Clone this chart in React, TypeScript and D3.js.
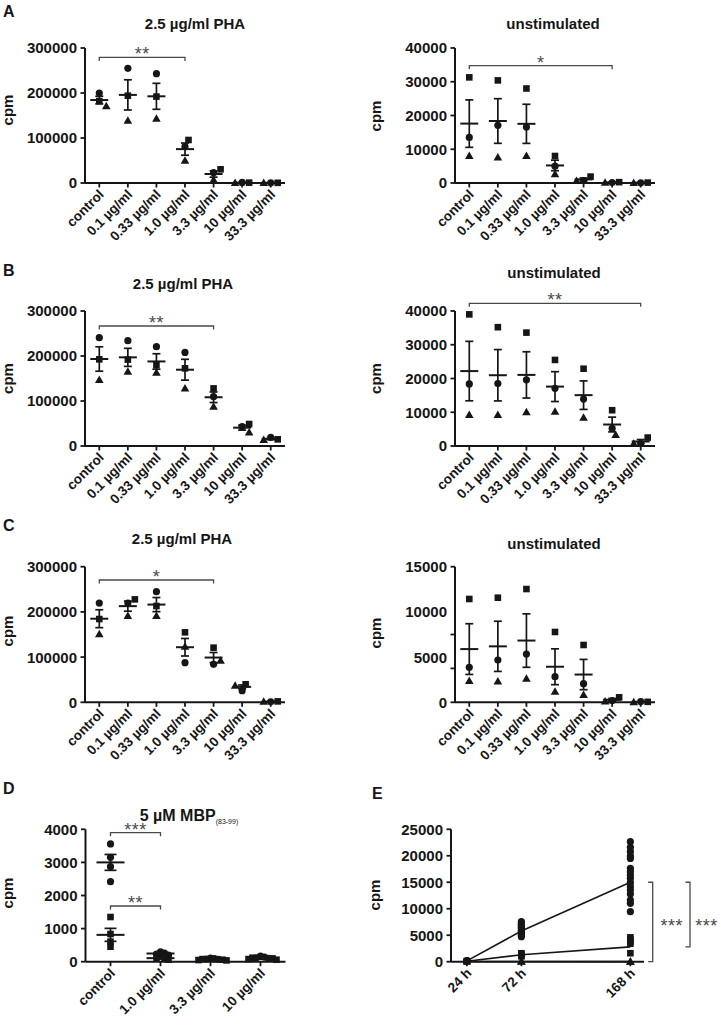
import React from "react";
import * as d3 from "d3";

const FONT = "'Liberation Sans', Arial, Helvetica, sans-serif";
const INK = "#161616";
const GRAY = "#4a4a4a";

// ---------- categories ----------
const DOSES = ["control", "0.1 µg/ml", "0.33 µg/ml", "1.0 µg/ml", "3.3 µg/ml", "10 µg/ml", "33.3 µg/ml"];
const DOSES_D = ["control", "1.0 µg/ml", "3.3 µg/ml", "10 µg/ml"];
const TIMES = [24, 72, 168];
const TIME_LABELS = ["24 h", "72 h", "168 h"];

// ---------- tick values ----------
const TICKS_PHA = [0, 100000, 200000, 300000];
const TICKS_40K = [0, 10000, 20000, 30000, 40000];
const TICKS_15K = [0, 5000, 10000, 15000];
const TICKMARKS_15K = [0, 3750, 7500, 15000];
const TICKS_4K = [0, 1000, 2000, 3000, 4000];
const TICKS_25K = [0, 5000, 10000, 15000, 20000, 25000];

// ---------- panel A ----------
const A_PHA_CIRCLE = [200000, 254800, 243000, 80700, 23000, 1200, 600];
const A_PHA_SQUARE = [182000, 194000, 192000, 95600, 30400, 800, 400];
const A_PHA_TRIANGLE = [171000, 138500, 143000, 49600, 6700, 300, 200];
const A_UNS_CIRCLE = [13500, 17100, 16600, 5000, 700, 150, 80];
const A_UNS_SQUARE = [31300, 30400, 28000, 8000, 1900, 250, 120];
const A_UNS_TRIANGLE = [8000, 7600, 8000, 2600, 600, 80, 50];

// ---------- panel B ----------
const B_PHA_CIRCLE = [240700, 234000, 220700, 208000, 109600, 43000, 19300];
const B_PHA_SQUARE = [192600, 192000, 180000, 172600, 128000, 48900, 14800];
const B_PHA_TRIANGLE = [146700, 165000, 163000, 128000, 87400, 30400, 13300];
const B_UNS_CIRCLE = [18400, 18500, 19600, 17100, 13900, 5200, 800];
const B_UNS_SQUARE = [39000, 35200, 33600, 25500, 22900, 10600, 2500];
const B_UNS_TRIANGLE = [9200, 9200, 10000, 10200, 8400, 3300, 700];

// ---------- panel C ----------
const C_PHA_CIRCLE = [219600, 219600, 244700, 87700, 84000, 25800, 1000];
const C_PHA_SQUARE = [184200, 227700, 213000, 154800, 120900, 39800, 2000];
const C_PHA_TRIANGLE = [151000, 190900, 190900, 123000, 92100, 36800, 1500];
const C_UNS_CIRCLE = [3870, 4680, 5340, 2840, 2060, 200, 80];
const C_UNS_SQUARE = [11430, 11570, 12530, 7780, 6340, 550, 50];
const C_UNS_TRIANGLE = [2360, 2320, 2620, 1180, 810, 100, 30];

// ---------- panel D (per category, 4 donors) ----------
const D_CIRCLE = [
  [3557, 3154, 2872, 2418],
  [300, 260, 230, 200],
  [110, 90, 80, 70],
  [170, 140, 120, 100],
];
const D_SQUARE = [
  [1350, 836, 605, 453],
  [160, 120, 90, 60],
  [80, 60, 50, 40],
  [120, 100, 80, 60],
];

// ---------- panel E (per time point) ----------
const E_CIRCLE = [
  [200, 150, 100],
  [7560, 7300, 7050, 6800, 6610, 6400, 6170, 5900, 5670, 5450, 5230, 4980, 4720],
  [22670, 21600, 20780, 19960, 19500, 17630, 17000, 16370, 15740, 14920, 14170, 13540, 12780, 11650, 11020, 9450],
];
const E_SQUARE = [
  [120, 80],
  [1600, 1400, 1200, 1000],
  [4600, 4200, 3800, 3400, 1600],
];
const E_TRIANGLE = [
  [40],
  [40, 20],
  [30, 10],
];
const E_CIRCLE_MEAN = [150, 5800, 15000];
const E_SQUARE_MEAN = [100, 1300, 2800];
const E_TRIANGLE_MEAN = [30, 30, 20];

type Shape = "circle" | "square" | "triangle";
type Series = { shape: Shape; data: number[][] };
type Bracket = { from: number; to: number; at: number; label: string };

const one = (arr: number[]) => arr.map((v) => [v]);
const triple = (c: number[], s: number[], t: number[]): Series[] => [
  { shape: "circle", data: one(c) },
  { shape: "square", data: one(s) },
  { shape: "triangle", data: one(t) },
];

function Marker({ shape, x, y }: { shape: Shape; x: number; y: number }) {
  if (shape === "circle") return <circle cx={x} cy={y} r={3.6} fill={INK} />;
  if (shape === "square") return <rect x={x - 3.3} y={y - 3.3} width={6.6} height={6.6} fill={INK} />;
  return <path d={`M${x},${y - 4.4}L${x + 4.3},${y + 3.1}L${x - 4.3},${y + 3.1}Z`} fill={INK} />;
}

function swarm(ys: number[], step: number, minDist: number): number[] {
  const placed: { x: number; y: number }[] = [];
  return ys.map((yv) => {
    for (let k = 0; k < 60; k++) {
      const off = k === 0 ? 0 : (k % 2 === 1 ? 1 : -1) * Math.ceil(k / 2) * step;
      if (placed.every((p) => Math.hypot(p.x - off, p.y - yv) >= minDist)) {
        placed.push({ x: off, y: yv });
        return off;
      }
    }
    return 0;
  });
}

function XLabel({ x, y, text }: { x: number; y: number; text: string }) {
  return (
    <text
      x={x}
      y={y}
      dy="0.35em"
      textAnchor="end"
      transform={`rotate(-45 ${x} ${y})`}
      fontSize={13.5}
      fontWeight="bold"
      fill={INK}
    >
      {text}
    </text>
  );
}

function Stars({ x, y, text }: { x: number; y: number; text: string }) {
  return (
    <text x={x} y={y} textAnchor="middle" fontSize={18} fill={GRAY} letterSpacing={0.5}>
      {text}
    </text>
  );
}

function YAxis({ x0, y, ticks, marks, h0 }: { x0: number; y: d3.ScaleLinear<number, number>; ticks: number[]; marks: number[]; h0: number }) {
  const top = y(d3.max(marks)!);
  return (
    <g>
      <line x1={x0} x2={x0} y1={top} y2={h0} stroke={INK} strokeWidth={2} />
      {marks.map((t) => (
        <line key={"m" + t} x1={x0 - 4.5} x2={x0} y1={y(t)} y2={y(t)} stroke={INK} strokeWidth={1.8} />
      ))}
      {ticks.map((t) => (
        <text key={"t" + t} x={x0 - 8} y={y(t)} dy="0.36em" textAnchor="end" fontSize={15} fontWeight="bold" fill={INK}>
          {String(t)}
        </text>
      ))}
    </g>
  );
}

function DotPanel(props: {
  x0: number;
  y0: number;
  h: number;
  w?: number;
  max: number;
  ticks: number[];
  marks?: number[];
  cats: string[];
  sets: Series[][];
  meanHW: number;
  capHW: number;
  brackets?: Bracket[];
  step?: number;
  minDist?: number;
}) {
  const { x0, y0, h, w = 200, max, ticks, cats, sets, meanHW, capHW } = props;
  const marks = props.marks ?? ticks;
  const brackets = props.brackets ?? [];
  const step = props.step ?? 3.5;
  const minDist = props.minDist ?? 7;
  const x = d3.scalePoint<string>().domain(cats).range([x0, x0 + w]).padding(0.5);
  const y = d3.scaleLinear().domain([0, max]).range([y0, y0 - h]);

  const markers: React.ReactNode[] = [];
  cats.forEach((c, ci) => {
    const pts: { shape: Shape; v: number }[] = [];
    sets.forEach((set) => set.forEach((s) => s.data[ci].forEach((v) => pts.push({ shape: s.shape, v }))));
    const offs = swarm(pts.map((p) => y(p.v)), step, minDist);
    pts.forEach((p, i) =>
      markers.push(<Marker key={`${ci}-${i}`} shape={p.shape} x={x(c)! + offs[i]} y={y(p.v)} />)
    );
  });

  const stats: React.ReactNode[] = [];
  sets.forEach((set, si) =>
    cats.forEach((c, ci) => {
      const vals = set.flatMap((s) => s.data[ci]);
      const m = d3.mean(vals)!;
      const sem = (d3.deviation(vals) ?? 0) / Math.sqrt(vals.length);
      const cx = x(c)!;
      const lo = y(Math.max(0, m - sem));
      const hi = y(m + sem);
      stats.push(
        <g key={`s${si}-${ci}`} stroke={INK} fill="none">
          <line x1={cx - meanHW} x2={cx + meanHW} y1={y(m)} y2={y(m)} strokeWidth={2} />
          <line x1={cx} x2={cx} y1={lo} y2={hi} strokeWidth={1.7} />
          <line x1={cx - capHW} x2={cx + capHW} y1={hi} y2={hi} strokeWidth={1.7} />
          <line x1={cx - capHW} x2={cx + capHW} y1={lo} y2={lo} strokeWidth={1.7} />
        </g>
      );
    })
  );

  return (
    <g>
      <YAxis x0={x0} y={y} ticks={ticks} marks={marks} h0={y0} />
      <line x1={x0} x2={x0 + w} y1={y0} y2={y0} stroke={INK} strokeWidth={2} />
      {cats.map((c) => (
        <line key={"xt" + c} x1={x(c)} x2={x(c)} y1={y0} y2={y0 + 4.5} stroke={INK} strokeWidth={1.8} />
      ))}
      {cats.map((c) => (
        <XLabel key={"xl" + c} x={x(c)! + 2} y={y0 + 9} text={c} />
      ))}
      {markers}
      {stats}
      {brackets.map((b, i) => {
        const x1 = x(cats[b.from])!;
        const x2 = x(cats[b.to])!;
        const yb = y(b.at);
        return (
          <g key={"b" + i}>
            <path d={`M${x1},${yb + 3.5}V${yb}H${x2}V${yb + 3.5}`} stroke={GRAY} strokeWidth={1.3} fill="none" />
            <Stars x={(x1 + x2) / 2} y={yb + 3} text={b.label} />
          </g>
        );
      })}
    </g>
  );
}

function TimePanel() {
  const x0 = 451;
  const y0 = 961.7;
  const x = d3.scaleLinear().domain([10, 180]).range([x0, 644]);
  const y = d3.scaleLinear().domain([0, 25000]).range([y0, y0 - 132.4]);
  const line = d3
    .line<number>()
    .x((_, i) => x(TIMES[i]))
    .y((d) => y(d));
  const groups: { shape: Shape; data: number[][]; mean: number[] }[] = [
    { shape: "circle", data: E_CIRCLE, mean: E_CIRCLE_MEAN },
    { shape: "square", data: E_SQUARE, mean: E_SQUARE_MEAN },
    { shape: "triangle", data: E_TRIANGLE, mean: E_TRIANGLE_MEAN },
  ];
  const bx1 = 652.7;
  const bx2 = 690;
  const midY = (y(E_CIRCLE_MEAN[2]) + y(0)) / 2 + 10;
  return (
    <g>
      <YAxis x0={x0} y={y} ticks={TICKS_25K} marks={TICKS_25K} h0={y0} />
      <line x1={x0} x2={644} y1={y0} y2={y0} stroke={INK} strokeWidth={2} />
      {TIMES.map((t, i) => (
        <g key={"t" + t}>
          <line x1={x(t)} x2={x(t)} y1={y0} y2={y0 + 4.5} stroke={INK} strokeWidth={1.8} />
          <XLabel x={x(t) + 2} y={y0 + 9} text={TIME_LABELS[i]} />
        </g>
      ))}
      {groups.map((g) =>
        g.data.map((vals, ti) =>
          vals.map((v, k) => <Marker key={`${g.shape}-${ti}-${k}`} shape={g.shape} x={x(TIMES[ti])} y={y(v)} />)
        )
      )}
      {groups.map((g) => (
        <path key={"l" + g.shape} d={line(g.mean)!} stroke={INK} strokeWidth={1.6} fill="none" />
      ))}
      <path
        d={`M${bx1 - 4.5},${y(E_CIRCLE_MEAN[2])}H${bx1}V${y(0)}H${bx1 - 4.5}`}
        stroke={GRAY}
        strokeWidth={1.3}
        fill="none"
      />
      <Stars x={bx1 + 19} y={midY} text="***" />
      <path
        d={`M${bx2 - 4.5},${y(E_CIRCLE_MEAN[2])}H${bx2}V${y(E_SQUARE_MEAN[2])}H${bx2 - 4.5}`}
        stroke={GRAY}
        strokeWidth={1.3}
        fill="none"
      />
      <Stars x={bx2 + 16.5} y={midY} text="***" />
    </g>
  );
}

function Title({ x, y, text }: { x: number; y: number; text: string }) {
  return (
    <text x={x} y={y} textAnchor="middle" fontSize={15} fontWeight="bold" fill={INK}>
      {text}
    </text>
  );
}

function Letter({ x, y, text }: { x: number; y: number; text: string }) {
  return (
    <text x={x} y={y} fontSize={16} fontWeight="bold" fill={INK}>
      {text}
    </text>
  );
}

function Cpm({ x, y }: { x: number; y: number }) {
  return (
    <text x={x} y={y} transform={`rotate(-90 ${x} ${y})`} textAnchor="middle" fontSize={15} fontWeight="bold" fill={INK}>
      cpm
    </text>
  );
}

export default function App() {
  return (
    <svg
      width={721}
      height={1026}
      style={{ position: "absolute", left: 0, top: 0, display: "block" }}
      fontFamily={FONT}
    >
      <rect width={721} height={1026} fill="#fff" />

      {/* Row A */}
      <Letter x={3} y={16.7} text="A" />
      <Title x={195} y={28.5} text="2.5 µg/ml PHA" />
      <Title x={553} y={28.5} text="unstimulated" />
      <Cpm x={12.7} y={110} />
      <Cpm x={381} y={116} />
      <DotPanel
        x0={85} y0={183} h={135} max={300000} ticks={TICKS_PHA} cats={DOSES}
        sets={[triple(A_PHA_CIRCLE, A_PHA_SQUARE, A_PHA_TRIANGLE)]}
        meanHW={9} capHW={4}
        brackets={[{ from: 0, to: 3, at: 279000, label: "**" }]}
      />
      <DotPanel
        x0={455} y0={183} h={135} max={40000} ticks={TICKS_40K} cats={DOSES}
        sets={[triple(A_UNS_CIRCLE, A_UNS_SQUARE, A_UNS_TRIANGLE)]}
        meanHW={9} capHW={4}
        brackets={[{ from: 0, to: 5, at: 34760, label: "*" }]}
      />

      {/* Row B */}
      <Letter x={3} y={276} text="B" />
      <Title x={183} y={289} text="2.5 µg/ml PHA" />
      <Title x={554} y={278.3} text="unstimulated" />
      <Cpm x={12.7} y={378.5} />
      <Cpm x={381} y={378.5} />
      <DotPanel
        x0={85} y0={446} h={135} max={300000} ticks={TICKS_PHA} cats={DOSES}
        sets={[triple(B_PHA_CIRCLE, B_PHA_SQUARE, B_PHA_TRIANGLE)]}
        meanHW={9} capHW={4}
        brackets={[{ from: 0, to: 4, at: 266700, label: "**" }]}
      />
      <DotPanel
        x0={455} y0={446} h={135} max={40000} ticks={TICKS_40K} cats={DOSES}
        sets={[triple(B_UNS_CIRCLE, B_UNS_SQUARE, B_UNS_TRIANGLE)]}
        meanHW={9} capHW={4}
        brackets={[{ from: 0, to: 6, at: 42280, label: "**" }]}
      />

      {/* Row C */}
      <Letter x={3} y={530.7} text="C" />
      <Title x={182} y={544.3} text="2.5 µg/ml PHA" />
      <Title x={554} y={549.3} text="unstimulated" />
      <Cpm x={12.7} y={631} />
      <Cpm x={381} y={633} />
      <DotPanel
        x0={85} y0={702.3} h={135.6} max={300000} ticks={TICKS_PHA} cats={DOSES}
        sets={[triple(C_PHA_CIRCLE, C_PHA_SQUARE, C_PHA_TRIANGLE)]}
        meanHW={9} capHW={4}
        brackets={[{ from: 0, to: 4, at: 270600, label: "*" }]}
      />
      <DotPanel
        x0={455} y0={702.3} h={135.6} max={15000} ticks={TICKS_15K} marks={TICKMARKS_15K} cats={DOSES}
        sets={[triple(C_UNS_CIRCLE, C_UNS_SQUARE, C_UNS_TRIANGLE)]}
        meanHW={9} capHW={4}
      />

      {/* Row D / E */}
      <Letter x={3} y={794} text="D" />
      <text x={189} y={820.5} textAnchor="middle" fontSize={16} fontWeight="bold" fill={INK}>
        5 µM MBP
        <tspan fontSize={7} fontWeight="normal" dy={3}>(83-99)</tspan>
      </text>
      <Cpm x={12.7} y={893} />
      <DotPanel
        x0={85.5} y0={961.7} h={132.4} max={4000} ticks={TICKS_4K} cats={DOSES_D}
        sets={[[{ shape: "circle", data: D_CIRCLE }], [{ shape: "square", data: D_SQUARE }]]}
        meanHW={14} capHW={6}
        step={2} minDist={4}
        brackets={[
          { from: 0, to: 1, at: 3897, label: "***" },
          { from: 0, to: 1, at: 1683, label: "**" },
        ]}
      />
      <Letter x={372} y={799.3} text="E" />
      <Cpm x={380} y={895} />
      <TimePanel />
    </svg>
  );
}
